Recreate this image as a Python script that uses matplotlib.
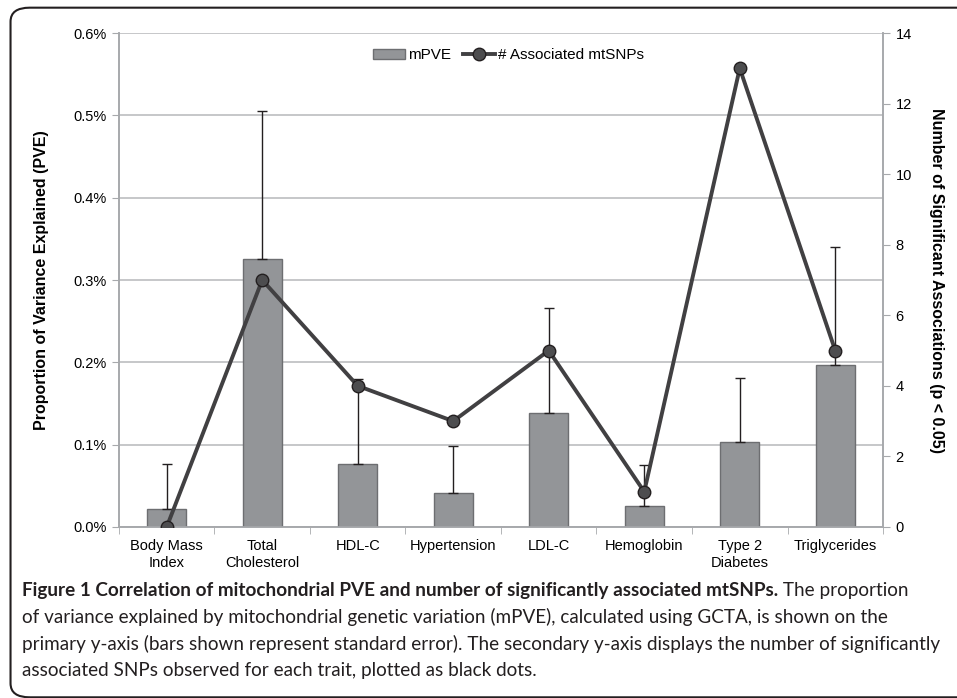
import numpy as np
import matplotlib.pyplot as plt
from matplotlib.patches import FancyBboxPatch
from matplotlib.ticker import FuncFormatter

# -------------------------------
# Data
traits = ["Body Mass\nIndex", "Total\nCholesterol", "HDL-C", "Hypertension",
          "LDL-C", "Hemoglobin", "Type 2\nDiabetes", "Triglycerides"]
mpve = [0.022, 0.325, 0.077, 0.041, 0.138, 0.026, 0.103, 0.197]        # percent
mpve_se = [0.055, 0.180, 0.103, 0.057, 0.128, 0.049, 0.078, 0.143]     # percent
n_snps = [0, 7, 4, 3, 5, 1, 13, 5]

plt.rcParams['font.family'] = ['Liberation Sans', 'DejaVu Sans']

fig = plt.figure(figsize=(9.57, 6.98), dpi=100)
ax = fig.add_axes([0.1243, 0.245, 0.7984, 0.7077])
ax2 = ax.twinx()

x = np.arange(len(traits))
grid_c = "#bcbec0"
spine_c = "#a7a9ac"

ax.bar(x, mpve, width=0.41, color="#939598", edgecolor="#6d6e71", linewidth=1,
       label="mPVE", zorder=3)
ax.errorbar(x, mpve, yerr=[np.zeros(len(x)), mpve_se], fmt="none",
            ecolor="#231f20", elinewidth=1, capsize=3.5, capthick=1, zorder=4)

ax2.plot(x, n_snps, color="#414042", lw=2.8, marker="o", markersize=9,
         markerfacecolor="#4d4d4f", markeredgecolor="#231f20", markeredgewidth=1,
         label="# Associated mtSNPs", zorder=5)

ax.set_xlim(-0.5, len(traits) - 0.5)
ax.set_ylim(0, 0.6)
ax2.set_ylim(0, 14)
ax.set_yticks(np.arange(0, 0.61, 0.1))
ax.yaxis.set_major_formatter(FuncFormatter(lambda v, p: f"{v:.1f}%"))
ax2.set_yticks(range(0, 15, 2))

ax.set_xticks(x)
ax.set_xticklabels(traits, fontsize=10.5, linespacing=1.25)
ax.set_xticks(np.arange(-0.5, len(traits), 1), minor=True)
ax.tick_params(axis="x", which="major", length=0, pad=9)
ax.tick_params(axis="x", which="minor", length=5, color=spine_c)
ax.tick_params(axis="y", length=5, color=spine_c, labelsize=10.5, pad=4)
ax2.tick_params(axis="y", length=5, color=spine_c, labelsize=10.5, pad=4)

ax.yaxis.grid(True, color=grid_c, lw=1.2, zorder=0)
ax.set_axisbelow(True)
for a in (ax, ax2):
    a.spines["top"].set_visible(False)
    for s in ("left", "right", "bottom"):
        a.spines[s].set_color(spine_c)
        a.spines[s].set_linewidth(1.2)

ax.set_ylabel("Proportion of Variance Explained (PVE)", fontsize=11.5,
              fontweight="bold", labelpad=17)
ax2.set_ylabel("Number of Significant Associations (p < 0.05)", fontsize=11.5,
               fontweight="bold", rotation=-90, labelpad=23)

h1, l1 = ax.get_legend_handles_labels()
h2, l2 = ax2.get_legend_handles_labels()
ax2.legend(h1 + h2, l1 + l2, loc="center", bbox_to_anchor=(0.51, 0.955), ncol=2,
           frameon=False, fontsize=11, handlelength=2.1, handletextpad=0.2,
           columnspacing=0.8, handleheight=0.6)

# -------------------------------
# Frame and caption
fig.patches.append(FancyBboxPatch((0.011, 0.001), 1.2, 0.988, transform=fig.transFigure,
                                  boxstyle="round,pad=0,rounding_size=0.02",
                                  facecolor="none", edgecolor="#231f20", lw=1.5))

cap_font = ['Lato', 'DejaVu Sans']
cap_size = 13.6
cap_y = [0.1547, 0.116, 0.0774, 0.0387]
bold = fig.text(0.023, cap_y[0], "Figure 1 Correlation of mitochondrial PVE and number of "
                "significantly associated mtSNPs.", fontsize=cap_size, fontweight="bold",
                family=cap_font, va="center", color="#231f20")
fig.canvas.draw()
bb = bold.get_window_extent()
fig.text(bb.x1 / fig.bbox.width, cap_y[0], " The proportion", fontsize=cap_size,
         family=cap_font, va="center", color="#231f20")
lines = ["of variance explained by mitochondrial genetic variation (mPVE), calculated using GCTA, is shown on the",
         "primary y-axis (bars shown represent standard error). The secondary y-axis displays the number of significantly",
         "associated SNPs observed for each trait, plotted as black dots."]
for ln, yy in zip(lines, cap_y[1:]):
    fig.text(0.023, yy, ln, fontsize=cap_size, family=cap_font,
             va="center", color="#231f20")

fig.savefig("out.png", dpi=100)
